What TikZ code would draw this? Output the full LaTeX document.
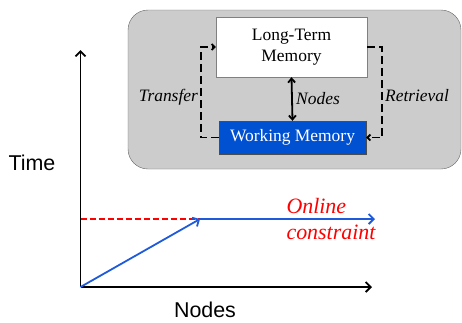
\documentclass[tikz,border=0pt]{standalone}
\usepackage{fontspec}
\setmainfont{Liberation Serif}
\setsansfont{Liberation Sans}
\usetikzlibrary{arrows.meta}
\definecolor{wmblue}{RGB}{0,80,210}
\definecolor{lineblue}{RGB}{30,90,220}
\definecolor{boxgray}{RGB}{204,204,204}

\begin{document}
\begin{tikzpicture}[x=1bp,y=-1bp]
    \tikzstyle{arrow} = [line width=1.8bp,-{Straight Barb[length=5bp,width=10bp]}]
    \tikzstyle{dasharrow} = [line width=1.8bp, dash pattern=on 8bp off 4bp, -{Straight Barb[length=3bp,width=6bp]}]
    \tikzstyle{memtext} = [font=\fontsize{17.5}{21}\selectfont]
    \tikzstyle{linklabel} = [font=\itshape\fontsize{17.5}{21}\selectfont]
    \tikzstyle{axislabel} = [font=\sffamily\fontsize{21.5}{24}\selectfont]
    \useasboundingbox (0,0) rectangle (462,322);

    % Gray background of the memory model
    \node [draw=gray!80!black, fill=boxgray, rounded corners=20bp, minimum width=333bp, minimum height=159bp] (Model) at (294.5,89.5) {};

    % Top box, long-term memory
    \node [draw=gray, fill=white, minimum width=151bp, minimum height=60bp, align=center, memtext] (LTM) at (291.5,47) {Long-Term\\Memory};

    % Bottom box, working memory
    \node [draw=gray!60!black, fill=wmblue, text=white, minimum width=147bp, minimum height=33bp, memtext] (WM) at (292.5,137.5) {Working Memory};

    % Between the two boxes
    \draw [line width=1.8bp, {Straight Barb[length=4bp,width=7bp]}-{Straight Barb[length=4bp,width=7bp]}] (LTM.south) -- (WM.north) node [midway, right, linklabel] {Nodes};

    % Left side, from working memory up to long-term memory
    \draw [dasharrow] (WM.west) -- ++(-18,0) |- (LTM.west) node [pos=0.225, left, inner sep=2bp, linklabel] {Transfer};

    % Right side, from long-term memory down to working memory
    \draw [dasharrow] (LTM.east) -- ++(15,0) |- (WM.east) node [pos=0.27, right, inner sep=2bp, linklabel] {Retrieval};

    % Axes
    \coordinate (Origin) at (80.5,287);
    \coordinate (TimeTop) at (80.5,50);
    \coordinate (NodesEnd) at (372,287);
    \draw [arrow] (Origin) -- (TimeTop);
    \draw [arrow] (Origin) -- (NodesEnd);
    \node [axislabel] (Time) at (32,163) {Time};
    \node [axislabel] (Nodes) at (205,310) {Nodes};

    % Online constraint
    \coordinate (Limit) at (80.5,219);
    \coordinate (Knee) at (200,219);
    \coordinate (LineEnd) at (375,219);
    \draw [red, line width=1.8bp, dash pattern=on 6bp off 3bp] (Limit) -- (Knee);
    \draw [arrow, lineblue] (Origin) -- (Knee);
    \draw [arrow, lineblue] (Knee) -- (LineEnd);
    \node [red, align=left, anchor=west, font=\itshape\fontsize{22}{26}\selectfont] (Online) at (283,219) {Online\\constraint};
\end{tikzpicture}
\end{document}
